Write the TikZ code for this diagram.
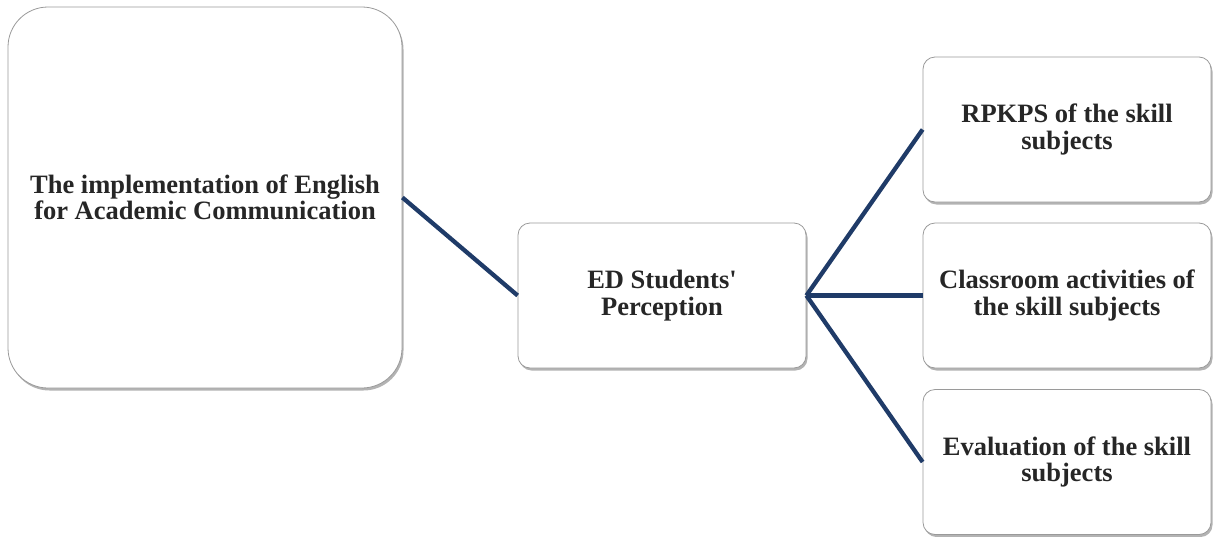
\documentclass[tikz,border=0pt]{standalone}
\usepackage{fontspec}
\setmainfont{Liberation Serif}[Ligatures=TeXOff]
\usetikzlibrary{shadows}
\definecolor{linkblue}{HTML}{1F3B68}
\definecolor{boxgray}{HTML}{9A9A9A}
\begin{document}
\begin{tikzpicture}[x=1pt,y=-1pt,
  box/.style={draw=boxgray, line width=0.8pt, fill=white, rounded corners=12pt,
    align=center, font=\bfseries\fontsize{26.5}{26.5}\selectfont, text=black!85,
    drop shadow={shadow xshift=1.5pt, shadow yshift=-2.5pt, fill=black!50, opacity=0.6},
    inner sep=0pt},
  link/.style={draw=linkblue, line width=4.3pt}]
\useasboundingbox (0,0) rectangle (1213,536);
\node[box, rounded corners=40pt, minimum width=394pt, minimum height=381pt] (main) at (205,197.5)
  {The implementation of English\\for Academic Communication};
\node[box, minimum width=288pt, minimum height=145pt] (mid) at (662,295.5)
  {ED Students'\\Perception};
\node[box, minimum width=288pt, minimum height=145pt] (r1) at (1067,129.5)
  {RPKPS of the skill\\subjects};
\node[box, minimum width=288pt, minimum height=145pt] (r2) at (1067,295.5)
  {Classroom activities of\\the skill subjects};
\node[box, minimum width=288pt, minimum height=145pt] (r3) at (1067,462)
  {Evaluation of the skill\\subjects};
\draw[link] (main.east) -- (mid.west);
\draw[link] (mid.east) -- (r1.west);
\draw[link] (mid.east) -- (r2.west);
\draw[link] (mid.east) -- (r3.west);
\end{tikzpicture}
\end{document}
